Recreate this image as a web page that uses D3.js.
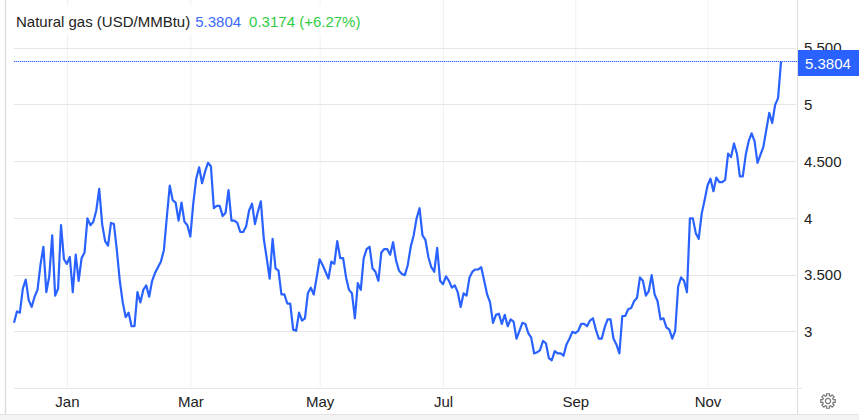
<!DOCTYPE html>
<html>
<head>
<meta charset="utf-8">
<title>Natural gas</title>
<script src="https://cdn.jsdelivr.net/npm/d3@7"></script>
<style>
  html, body { margin: 0; padding: 0; background: #fff; }
  svg { display: block; font-family: 'Liberation Sans', Arial, sans-serif; }
</style>
</head>
<body>
<div id="chart"></div>
<script>
!(function () {
  var d3 = this.d3

  var title = 'Natural gas (USD/MMBtu)'
  var lastLabel = '5.3804'
  var changeLabel = '0.3174 (+6.27%)'

  // daily closes, one per business day from 9 Dec 2024
  var prices = [
    3.08, 3.18, 3.17, 3.38, 3.46, 3.28, 3.22, 3.31, 3.37, 3.59, 3.75, 3.35, 3.49, 3.85, 3.32, 3.38,
    3.94, 3.64, 3.60, 3.66, 3.35, 3.68, 3.45, 3.65, 3.70, 4.00, 3.94, 3.97, 4.07, 4.26, 3.95, 3.80,
    3.76, 3.96, 3.95, 3.72, 3.45, 3.26, 3.13, 3.17, 3.05, 3.05, 3.35, 3.26, 3.37, 3.41, 3.31, 3.45,
    3.52, 3.57, 3.62, 3.72, 4.01, 4.29, 4.16, 4.14, 3.98, 4.14, 3.97, 3.94, 3.84, 4.13, 4.35, 4.45,
    4.31, 4.41, 4.49, 4.46, 4.09, 4.11, 4.11, 4.02, 4.05, 4.25, 3.98, 3.98, 3.96, 3.88, 3.88, 3.93,
    4.07, 4.13, 3.95, 4.06, 4.15, 3.82, 3.65, 3.47, 3.82, 3.56, 3.54, 3.33, 3.33, 3.25, 3.25, 3.02,
    3.01, 3.17, 3.10, 3.12, 3.34, 3.39, 3.33, 3.48, 3.64, 3.59, 3.53, 3.47, 3.62, 3.60, 3.80, 3.65,
    3.65, 3.48, 3.37, 3.34, 3.12, 3.43, 3.37, 3.65, 3.73, 3.75, 3.56, 3.53, 3.45, 3.70, 3.73, 3.73,
    3.68, 3.79, 3.63, 3.54, 3.51, 3.50, 3.59, 3.75, 3.85, 4.00, 4.09, 3.85, 3.81, 3.66, 3.57, 3.53,
    3.74, 3.45, 3.42, 3.49, 3.45, 3.39, 3.41, 3.35, 3.22, 3.34, 3.32, 3.48, 3.53, 3.55, 3.55, 3.57,
    3.45, 3.33, 3.26, 3.08, 3.15, 3.16, 3.07, 3.15, 3.05, 3.11, 3.09, 2.94, 3.01, 3.08, 3.07, 2.99,
    2.95, 2.81, 2.82, 2.84, 2.92, 2.90, 2.77, 2.75, 2.83, 2.81, 2.81, 2.79, 2.89, 2.94, 3.00, 2.99,
    3.01, 3.07, 3.07, 3.05, 3.10, 3.12, 3.02, 2.94, 2.94, 3.04, 3.11, 3.11, 2.94, 2.89, 2.81, 3.14,
    3.14, 3.20, 3.21, 3.27, 3.30, 3.48, 3.45, 3.32, 3.36, 3.50, 3.33, 3.27, 3.11, 3.12, 3.04, 3.02,
    2.94, 3.01, 3.40, 3.48, 3.45, 3.35, 4.00, 4.00, 3.87, 3.82, 4.04, 4.16, 4.29, 4.35, 4.24, 4.36,
    4.32, 4.32, 4.34, 4.57, 4.54, 4.66, 4.57, 4.37, 4.37, 4.56, 4.68, 4.75, 4.68, 4.49, 4.56, 4.63,
    4.78, 4.93, 4.84, 5.00, 5.06, 5.3804
  ]

  var yTicks = [3, 3.5, 4, 4.5, 5, 5.5]
  var yTickLabels = ['3', '3.500', '4', '4.500', '5', '5.500']
  var monthLabels = ['Jan', 'Mar', 'May', 'Jul', 'Sep', 'Nov']
  var monthDates = ['2025-01-02', '2025-03-03', '2025-05-02', '2025-07-01', '2025-09-02', '2025-11-04']

  var width = 859
  var height = 420
  var blue = '#2962ff'
  var gridH = '#e6e6e6'
  var gridV = '#eef2f7'
  var border = '#dedede'
  var textColor = '#222'
  var fontSize = 15

  var plot = { left: 14, right: 796, top: 0, bottom: 388, lastX: 781, frame: 414, axisX: 797.5 }

  var fmt = d3.utcFormat('%Y-%m-%d')
  var dates = d3.utcDay.range(new Date(Date.UTC(2024, 11, 9)), new Date(Date.UTC(2025, 11, 10)))
    .filter(function (d) { return d.getUTCDay() !== 0 && d.getUTCDay() !== 6 })
    .map(fmt)
    .slice(0, prices.length)

  var xScale = d3.scalePoint().domain(dates).range([plot.left, plot.lastX])
  var yScale = d3.scaleLinear().domain([3, 5.5]).range([331.9, 48.15])

  var svg = d3.select('#chart').append('svg')
    .attr('width', width)
    .attr('height', height)

  // page frame
  svg.append('rect').attr('x', 0).attr('y', plot.frame).attr('width', width).attr('height', height - plot.frame).attr('fill', '#f3f3f3')
  svg.append('line').attr('x1', 0).attr('x2', width).attr('y1', plot.frame + 0.5).attr('y2', plot.frame + 0.5).attr('stroke', '#e4e4e4')
  svg.append('line').attr('x1', 5.5).attr('x2', 5.5).attr('y1', 0).attr('y2', plot.frame).attr('stroke', border).attr('stroke-width', 1.5)
  svg.append('line').attr('x1', plot.axisX).attr('x2', plot.axisX).attr('y1', 0).attr('y2', plot.frame).attr('stroke', border)

  // x axis with month labels, ticks stretched up into grid lines
  var xAxis = d3.axisBottom(xScale)
    .tickValues(monthDates)
    .tickFormat(function (d, i) { return monthLabels[i] })
    .tickSize(-plot.bottom)
    .tickPadding(8)

  var xGroup = svg.append('g').attr('transform', 'translate(0,' + plot.bottom + ')').call(xAxis)
  xGroup.select('.domain').remove()
  xGroup.selectAll('line').attr('stroke', gridV).attr('stroke-width', 1)
  xGroup.selectAll('text').attr('fill', textColor).style('font-size', fontSize + 'px').style('font-family', 'inherit')

  // y axis, labels only; the grid lines come next
  var yAxis = d3.axisRight(yScale)
    .tickValues(yTicks)
    .tickFormat(function (d, i) { return yTickLabels[i] })
    .tickSize(0)
    .tickPadding(0)

  var yGroup = svg.append('g').attr('transform', 'translate(804,0)').call(yAxis)
  yGroup.select('.domain').remove()
  yGroup.selectAll('text').attr('fill', textColor).style('font-size', fontSize + 'px').style('font-family', 'inherit')

  svg.append('g').selectAll('line')
    .data(yTicks)
    .enter()
    .append('line')
    .attr('x1', plot.left)
    .attr('x2', plot.right)
    .attr('y1', function (d) { return Math.floor(yScale(d)) + 0.5 })
    .attr('y2', function (d) { return Math.floor(yScale(d)) + 0.5 })
    .attr('stroke', gridH)

  // bottom edge of the plot, with its small tick past the axis
  svg.append('line').attr('x1', plot.left).attr('x2', plot.right).attr('y1', plot.bottom + 0.5).attr('y2', plot.bottom + 0.5).attr('stroke', gridH)
  svg.append('line').attr('x1', plot.axisX).attr('x2', 802).attr('y1', plot.bottom + 0.5).attr('y2', plot.bottom + 0.5).attr('stroke', gridH)

  // title sits on a white patch that hides the grid
  svg.append('rect').attr('x', 14).attr('y', 6).attr('width', 352).attr('height', 28).attr('fill', '#fff')

  var head = svg.append('text').attr('x', 16).attr('y', 27).style('font-size', fontSize + 'px')
  head.append('tspan').attr('fill', textColor).text(title)
  head.append('tspan').attr('fill', '#3d6bff').attr('dx', 5).text(lastLabel)
  head.append('tspan').attr('fill', '#33cc44').attr('dx', 8).text(changeLabel)

  // last value guide, dots over a pale band of the same blue
  var last = prices[prices.length - 1]
  var guideY = Math.floor(yScale(last)) + 0.5
  svg.append('line')
    .attr('x1', plot.left)
    .attr('x2', plot.axisX)
    .attr('y1', guideY)
    .attr('y2', guideY)
    .attr('stroke', blue)
    .attr('stroke-opacity', 0.3)
  svg.append('line')
    .attr('x1', plot.left)
    .attr('x2', plot.axisX)
    .attr('y1', guideY)
    .attr('y2', guideY)
    .attr('stroke', blue)
    .attr('stroke-dasharray', '1,1')

  var line = d3.line()
    .x(function (d, i) { return xScale(dates[i]) })
    .y(function (d) { return yScale(d) })

  svg.append('path')
    .datum(prices)
    .attr('d', line)
    .attr('fill', 'none')
    .attr('stroke', blue)
    .attr('stroke-width', 2.2)
    .attr('stroke-linejoin', 'round')

  // price flag
  svg.append('rect').attr('x', 798).attr('y', 50).attr('width', 61).attr('height', 26).attr('fill', blue)
  svg.append('text').attr('x', 805).attr('y', 69).attr('fill', '#fff').style('font-size', fontSize + 'px').text(lastLabel)

  // settings gear
  var gear = []
  d3.range(8).forEach(function (k) {
    var a = k * Math.PI / 4
    ;[[-0.26, 5.4], [-0.2, 7.4], [0.2, 7.4], [0.26, 5.4]].forEach(function (p) {
      gear.push([p[1] * Math.cos(a + p[0]), p[1] * Math.sin(a + p[0])])
    })
  })
  var gearGroup = svg.append('g').attr('transform', 'translate(828,401)').attr('fill', 'none').attr('stroke', '#777').attr('stroke-width', 1.2)
  gearGroup.append('path').attr('d', d3.line().curve(d3.curveLinearClosed)(gear))
  gearGroup.append('circle').attr('r', 2.6)
}())
</script>
</body>
</html>
